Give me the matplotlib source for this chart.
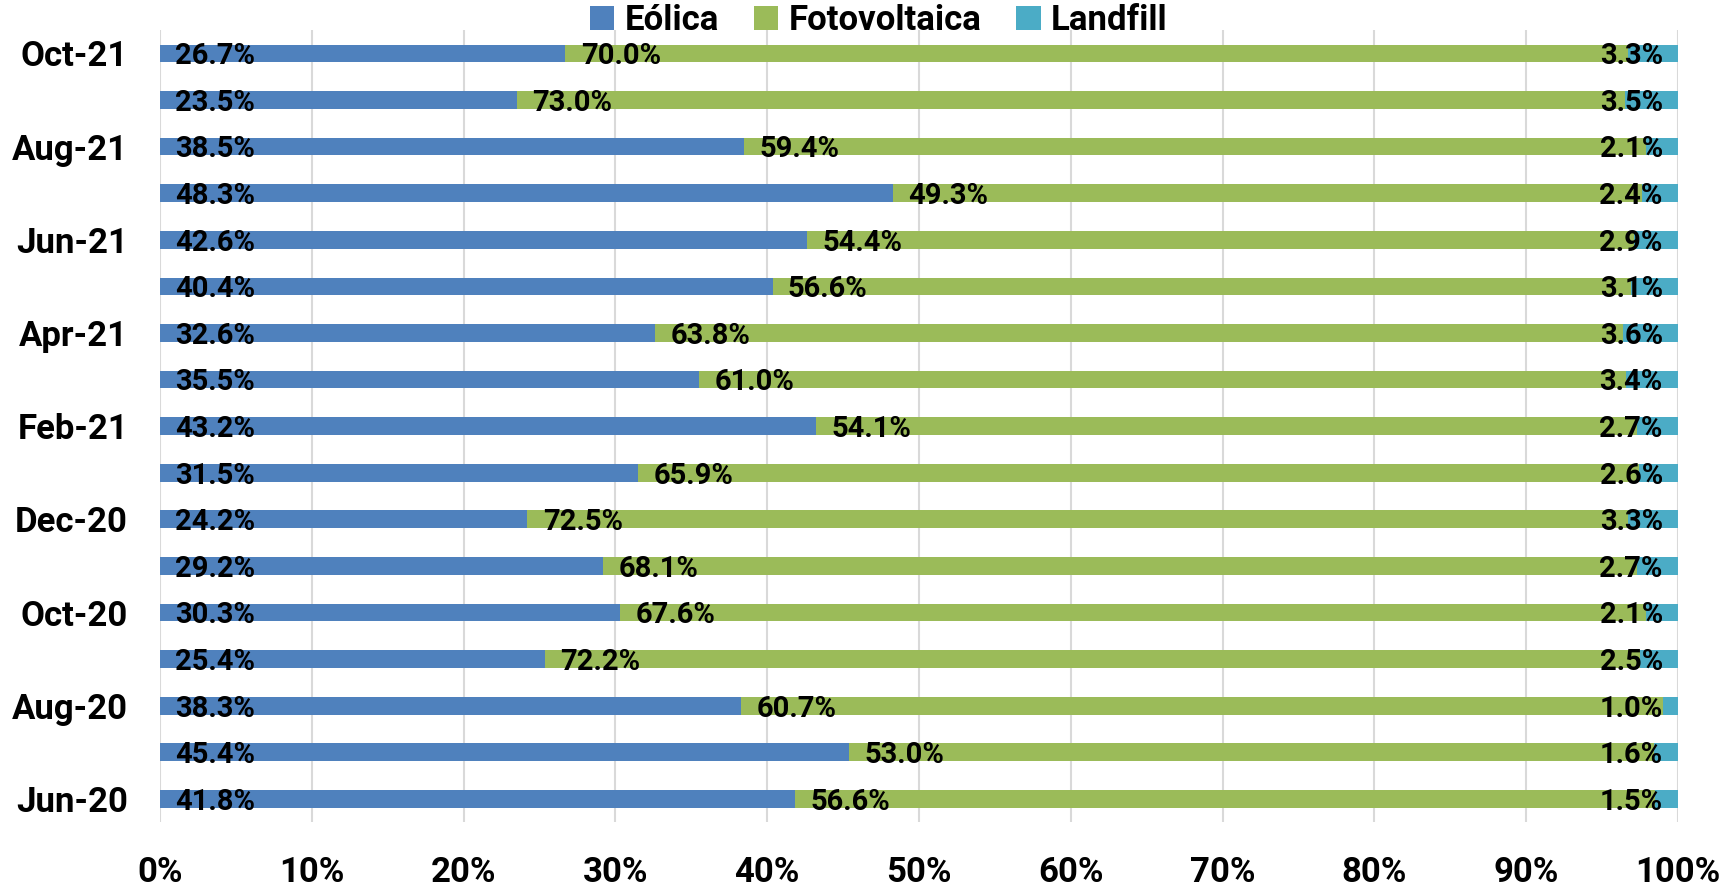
import matplotlib

matplotlib.use("Agg")
import matplotlib.pyplot as plt  # noqa: E402
import numpy as np  # noqa: E402

plt.rcParams["font.family"] = ["Roboto", "DejaVu Sans"]
plt.rcParams["font.weight"] = "bold"

# bottom to top, as in the chart
months = ["Jun-20", "Jul-20", "Aug-20", "Sep-20", "Oct-20", "Nov-20", "Dec-20",
          "Jan-21", "Feb-21", "Mar-21", "Apr-21", "May-21", "Jun-21", "Jul-21",
          "Aug-21", "Sep-21", "Oct-21"]
eolica = [41.8, 45.4, 38.3, 25.4, 30.3, 29.2, 24.2, 31.5, 43.2, 35.5, 32.6,
          40.4, 42.6, 48.3, 38.5, 23.5, 26.7]
fotovoltaica = [56.6, 53.0, 60.7, 72.2, 67.6, 68.1, 72.5, 65.9, 54.1, 61.0, 63.8,
                56.6, 54.4, 49.3, 59.4, 73.0, 70.0]
landfill = [1.5, 1.6, 1.0, 2.5, 2.1, 2.7, 3.3, 2.6, 2.7, 3.4, 3.6,
            3.1, 2.9, 2.4, 2.1, 3.5, 3.3]
series_names = ["Eólica", "Fotovoltaica", "Landfill"]
colors = ["#4F81BD", "#9BBB59", "#4BACC6"]

vals = np.array([eolica, fotovoltaica, landfill])
shares = vals / vals.sum(axis=0) * 100
y = np.arange(len(months))

fig = plt.figure(figsize=(17.3, 8.86), dpi=100)
ax = fig.add_axes([0.0925, 0.072, 0.8775, 0.894])

left = np.zeros(len(months))
handles = []
for i, (name, c) in enumerate(zip(series_names, colors)):
    h = ax.barh(y, shares[i], left=left, height=0.38, color=c, label=name, zorder=2)
    handles.append(h)
    for yy, l0, w, v in zip(y, left, shares[i], vals[i]):
        if i < 2:
            ax.annotate(f"{v:.1f}%", (l0, yy), xytext=(11, -2), textcoords="offset points",
                        ha="left", va="center", fontsize=21, fontweight="bold", zorder=3)
        else:
            ax.annotate(f"{v:.1f}%", (l0 + w, yy), xytext=(-11, -2), textcoords="offset points",
                        ha="right", va="center", fontsize=21, fontweight="bold", zorder=3)
    left = left + shares[i]

ax.set_xlim(0, 100)
ax.set_ylim(-0.5, len(months) - 0.5)
ax.set_xticks(np.arange(0, 101, 10))
ax.set_xticklabels([f"{t}%" for t in range(0, 101, 10)])
ax.set_yticks(y)
ax.set_yticklabels([m if k % 2 == 0 else "" for k, m in enumerate(months)])
ax.tick_params(axis="x", length=0, pad=24, labelsize=25)
ax.tick_params(axis="y", length=0, pad=23, labelsize=25)
for lab in ax.get_xticklabels() + ax.get_yticklabels():
    lab.set_fontweight("bold")
ax.grid(axis="x", color="#D9D9D9", linewidth=1.5, zorder=0)
for s in ax.spines.values():
    s.set_visible(False)

fig.legend(handles=handles, loc="center", bbox_to_anchor=(0.508, 0.977), ncol=3,
           frameon=False, handlelength=0.7, handleheight=0.7,
           handletextpad=0.3, columnspacing=1.0, prop={"weight": "bold", "size": 25})

fig.savefig("out.png", dpi=100)
